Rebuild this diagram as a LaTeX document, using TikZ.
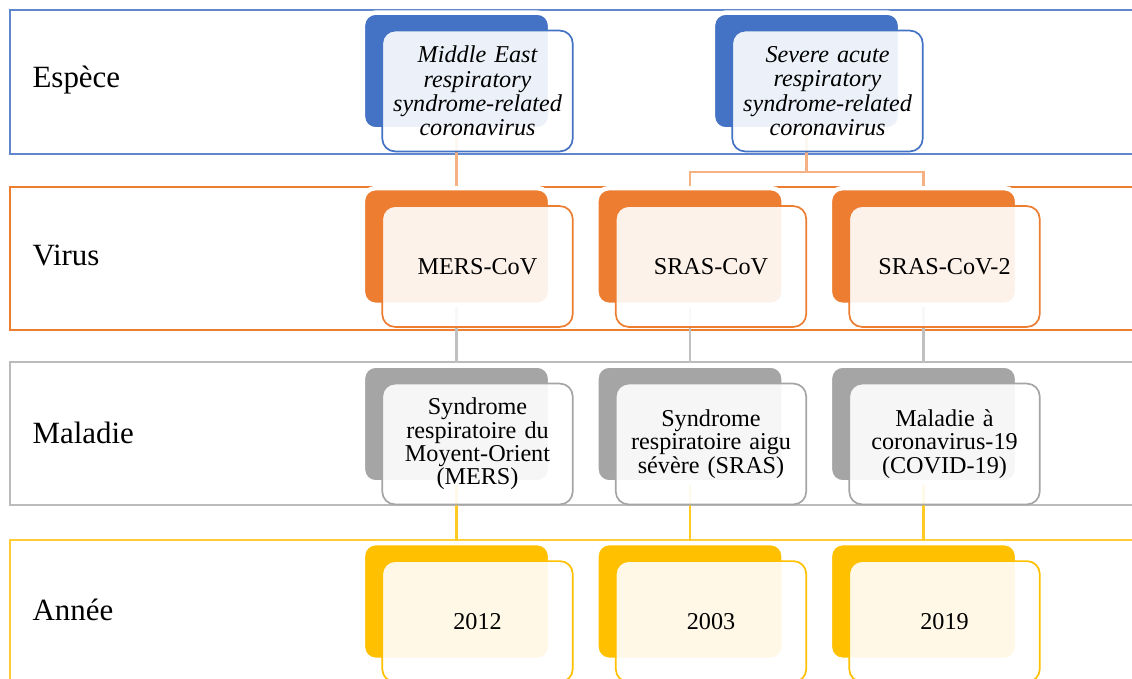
\documentclass[tikz,border=0pt]{standalone}
\usepackage{fontspec}
\setmainfont{Liberation Serif}
\usetikzlibrary{positioning,calc}
\definecolor{accBlue}{HTML}{4472C4}
\definecolor{accOrange}{HTML}{ED7D31}
\definecolor{accGray}{HTML}{A5A5A5}
\definecolor{accGold}{HTML}{FFC000}
\tikzset{
    band/.style={draw=#1, line width=0.8pt},
    band label/.style={anchor=base west, inner sep=0pt, font=\fontsize{11}{13}\selectfont},
    back/.style={rectangle, rounded corners=0.16cm, fill=#1, draw=white, line width=1.6pt, minimum width=2.34cm, minimum height=1.46cm, inner sep=0pt},
    front/.style={rectangle, rounded corners=0.16cm, draw=#1, line width=0.6pt, fill=white, fill opacity=0.9, text opacity=1, minimum width=2.38cm, minimum height=1.51cm, text width=2.25cm, align=center, inner sep=0pt, font=\fontsize{8.6}{8.3}\selectfont},
    species/.style={front=accBlue, font=\fontsize{8.6}{8.7}\selectfont\itshape},
    link/.style={draw=#1, line width=0.8pt}
}

\begin{document}
\begin{tikzpicture}[x=0.0125cm, y=-0.0125cm]
    \clip (0,0) rectangle (1132,678);

    % --- Bands ---
    \draw[band=accBlue!85] (10,10) rectangle (1145,154);
    \draw[band=accOrange] (10,187) rectangle (1145,330);
    \draw[band=accGray!75] (10,362) rectangle (1145,505);
    \draw[band=accGold!80] (10,540) rectangle (1145,700);

    \node (lblEspece) [band label] at (32,87) {Espèce};
    \node (lblVirus) [band label] at (32,265) {Virus};
    \node (lblMaladie) [band label] at (32,443) {Maladie};
    \node (lblAnnee) [band label] at (32,620) {Année};

    % --- Back boxes ---
    \node (sMERS) [back=accBlue] at (456.5,71) {};
    \node (sSARS) [back=accBlue] at (806.5,71) {};

    \node (vMERS) [back=accOrange] at (456.5,246.5) {};
    \node (vSRAS) [back=accOrange] at (690,246.5) {};
    \node (vCOV2) [back=accOrange] at (923.5,246.5) {};

    \node (mMERS) [back=accGray] at (456.5,424) {};
    \node (mSRAS) [back=accGray] at (690,424) {};
    \node (mCOV2) [back=accGray] at (923.5,424) {};

    \node (aMERS) [back=accGold] at (456.5,601.5) {};
    \node (aSRAS) [back=accGold] at (690,601.5) {};
    \node (aCOV2) [back=accGold] at (923.5,601.5) {};

    % --- Links ---
    \coordinate (fork) at ($(sSARS.south)+(0,40)$);
    \draw[link=accOrange!60] (sMERS.south) -- (vMERS.north);
    \draw[link=accOrange!60] (sSARS.south) -- (fork) -| (vSRAS.north);
    \draw[link=accOrange!60] (fork) -| (vCOV2.north);
    \foreach \col in {MERS,SRAS,COV2} {
        \draw[link=accGray!70] (v\col.south) -- (m\col.north);
        \draw[link=accGold!85] (m\col.south) -- (a\col.north);
    }

    % --- Front boxes ---
    \node (sMERSf) [species] at ($(sMERS)+(21,20)$) {Middle East\\respiratory\\syndrome-related\\coronavirus};
    \node (sSARSf) [species] at ($(sSARS)+(21,20)$) {Severe acute\\respiratory\\syndrome-related\\coronavirus};

    \node (vMERSf) [front=accOrange] at ($(vMERS)+(21,20)$) {MERS-CoV};
    \node (vSRASf) [front=accOrange] at ($(vSRAS)+(21,20)$) {SRAS-CoV};
    \node (vCOV2f) [front=accOrange] at ($(vCOV2)+(21,20)$) {SRAS-CoV-2};

    \node (mMERSf) [front=accGray] at ($(mMERS)+(21,20)$) {Syndrome\\respiratoire du\\Moyent-Orient\\(MERS)};
    \node (mSRASf) [front=accGray] at ($(mSRAS)+(21,20)$) {Syndrome\\respiratoire aigu\\sévère (SRAS)};
    \node (mCOV2f) [front=accGray] at ($(mCOV2)+(21,20)$) {Maladie à\\coronavirus-19\\(COVID-19)};

    \node (aMERSf) [front=accGold] at ($(aMERS)+(21,20)$) {2012};
    \node (aSRASf) [front=accGold] at ($(aSRAS)+(21,20)$) {2003};
    \node (aCOV2f) [front=accGold] at ($(aCOV2)+(21,20)$) {2019};
\end{tikzpicture}
\end{document}
